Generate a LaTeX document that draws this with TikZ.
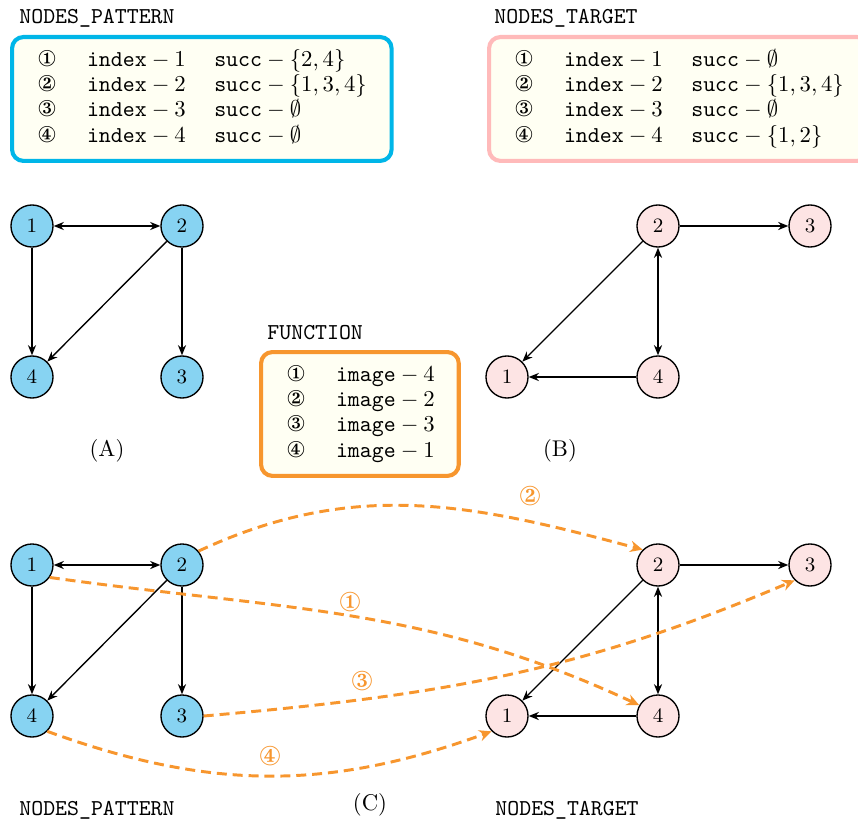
\documentclass[tikz,border=0pt]{standalone}
\usepackage{amsmath}
\usepackage{amssymb}
\usepackage{pifont}
\usetikzlibrary{arrows.meta}
\definecolor{patline}{HTML}{00B6E8}
\definecolor{patfill}{HTML}{87D3F2}
\definecolor{tgtline}{HTML}{FFBABA}
\definecolor{tgtfill}{HTML}{FDE4E4}
\definecolor{mapcol}{HTML}{F7962E}
\definecolor{boxfill}{HTML}{FFFFF3}
\renewcommand{\arraystretch}{0.93}

\begin{document}
\begin{tikzpicture}[
    x=0.44pt, y=0.44pt,
    vertex/.style={
        draw, circle, semithick,
        minimum size=18.5pt, inner sep=0pt,
        font=\small
    },
    pat/.style={vertex, fill=patfill},
    tgt/.style={vertex, fill=tgtfill},
    edge/.style={semithick, -{Stealth[length=4.5pt, width=3.6pt]}},
    bothedge/.style={semithick, {Stealth[length=4.5pt, width=3.6pt]}-{Stealth[length=4.5pt, width=3.6pt]}},
    map/.style={
        draw=mapcol, line width=1.3pt,
        dash pattern=on 4.4pt off 2.6pt,
        -{Stealth[length=5.5pt, width=5pt]}
    },
    maplbl/.style={text=mapcol, font=\large},
    listbox/.style={
        draw, line width=1.8pt, rounded corners=5pt,
        fill=boxfill, anchor=north west,
        inner xsep=11.5pt, inner ysep=0pt,
        minimum height=54.5pt, align=left
    },
    ttl/.style={anchor=base west, inner sep=0pt, font=\ttfamily}
]
\useasboundingbox (0,0) rectangle (858,-822);

% lists
\node[ttl] (pattitle) at (19,-24) {NODES\_PATTERN};
\node[listbox, draw=patline, text width=144pt] (patlist) at (10,-35) {
    \begin{tabular}{@{}p{21.5pt}@{}p{56pt}@{}l@{}}
    \ding{172} & $\texttt{index} - 1$ & $\texttt{succ} - \{2,4\}$ \\
    \ding{173} & $\texttt{index} - 2$ & $\texttt{succ} - \{1,3,4\}$ \\
    \ding{174} & $\texttt{index} - 3$ & $\texttt{succ} - \emptyset$ \\
    \ding{175} & $\texttt{index} - 4$ & $\texttt{succ} - \emptyset$
    \end{tabular}
};

\node[ttl] (tgttitle) at (494,-24) {NODES\_TARGET};
\node[listbox, draw=tgtline, text width=144pt] (tgtlist) at (487,-35) {
    \begin{tabular}{@{}p{21.5pt}@{}p{56pt}@{}l@{}}
    \ding{172} & $\texttt{index} - 1$ & $\texttt{succ} - \emptyset$ \\
    \ding{173} & $\texttt{index} - 2$ & $\texttt{succ} - \{1,3,4\}$ \\
    \ding{174} & $\texttt{index} - 3$ & $\texttt{succ} - \emptyset$ \\
    \ding{175} & $\texttt{index} - 4$ & $\texttt{succ} - \{1,2\}$
    \end{tabular}
};

\node[ttl] (fntitle) at (267,-339) {FUNCTION};
\node[listbox, draw=mapcol, text width=64pt] (fnlist) at (259,-350) {
    \begin{tabular}{@{}p{21.5pt}@{}l@{}}
    \ding{172} & $\texttt{image} - 4$ \\
    \ding{173} & $\texttt{image} - 2$ \\
    \ding{174} & $\texttt{image} - 3$ \\
    \ding{175} & $\texttt{image} - 1$
    \end{tabular}
};

% (A) pattern graph
\node[pat] (a1) at (32,-226) {1};
\node[pat] (a2) at (182,-226) {2};
\node[pat] (a4) at (32,-377) {4};
\node[pat] (a3) at (182,-377) {3};
\draw[bothedge] (a1) -- (a2);
\draw[edge] (a1) -- (a4);
\draw[edge] (a2) -- (a4);
\draw[edge] (a2) -- (a3);
\node (labA) at (107,-451) {(A)};

% (B) target graph
\node[tgt] (b2) at (658,-226) {2};
\node[tgt] (b3) at (810,-226) {3};
\node[tgt] (b1) at (507,-377) {1};
\node[tgt] (b4) at (658,-377) {4};
\draw[edge] (b2) -- (b3);
\draw[edge] (b2) -- (b1);
\draw[bothedge] (b2) -- (b4);
\draw[edge] (b4) -- (b1);
\node (labB) at (560,-451) {(B)};

% (C) both graphs with the mapping
\node[pat] (c1) at (32,-565) {1};
\node[pat] (c2) at (182,-565) {2};
\node[pat] (c4) at (32,-716) {4};
\node[pat] (c3) at (182,-716) {3};
\draw[bothedge] (c1) -- (c2);
\draw[edge] (c1) -- (c4);
\draw[edge] (c2) -- (c4);
\draw[edge] (c2) -- (c3);

\node[tgt] (d2) at (658,-565) {2};
\node[tgt] (d3) at (810,-565) {3};
\node[tgt] (d1) at (507,-716) {1};
\node[tgt] (d4) at (658,-716) {4};
\draw[edge] (d2) -- (d3);
\draw[edge] (d2) -- (d1);
\draw[bothedge] (d2) -- (d4);
\draw[edge] (d4) -- (d1);

\draw[map] (c1.-35) to[out=-8, in=155] (d4.150);
\draw[map] (c2.40) to[out=25, in=165] (d2.135);
\draw[map] (c3.east) to[out=5, in=-157] (d3.-135);
\draw[map] (c4.-45) to[out=-20, in=-160] (d1.-135);
\node[maplbl] (m1) at (350,-602) {\ding{172}};
\node[maplbl] (m2) at (530,-496) {\ding{173}};
\node[maplbl] (m3) at (362,-681) {\ding{174}};
\node[maplbl] (m4) at (270,-756) {\ding{175}};

\node[ttl] (pattitle2) at (19,-815) {NODES\_PATTERN};
\node (labC) at (370,-805) {(C)};
\node[ttl] (tgttitle2) at (495,-815) {NODES\_TARGET};
\end{tikzpicture}
\end{document}
